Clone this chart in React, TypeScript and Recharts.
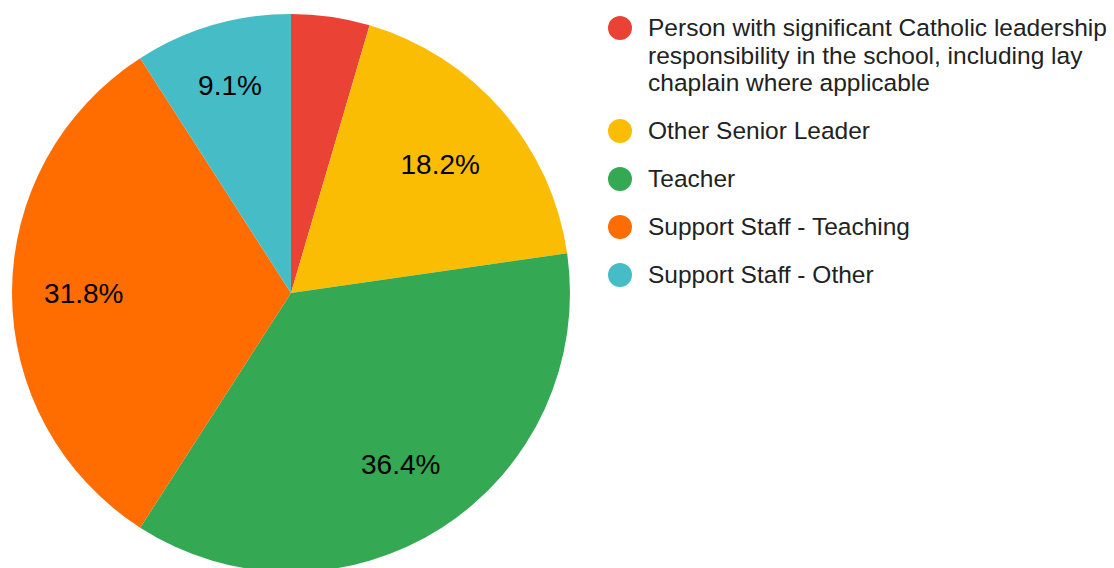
import React from 'react';
import { PieChart, Pie, Cell, Legend } from 'recharts';

const categories = [
  'Person with significant Catholic leadership responsibility in the school, including lay chaplain where applicable',
  'Other Senior Leader',
  'Teacher',
  'Support Staff - Teaching',
  'Support Staff - Other',
];
const counts = [1, 4, 8, 7, 2];
const colors = ['#ea4335', '#fbbc04', '#34a853', '#ff6d01', '#46bdc6'];

const data = categories.map((name, i) => ({ name, value: counts[i] }));

const FONT = '"Liberation Sans", Arial, sans-serif';
const RADIAN = Math.PI / 180;
const LABEL_SIZE = 28;

// rough Arial advance width of a percentage string
const textWidth = (s: string, fs: number) =>
  s.split('').reduce((w, ch) => w + (ch === '.' ? 0.278 : ch === '%' ? 0.889 : 0.556) * fs, 0);

// labels are pulled inward so the text box stays inside the slice, tiny slices get none
const renderLabel = (props: any) => {
  const { cx, cy, midAngle, outerRadius, percent } = props;
  if (percent < 0.05) return null;
  const text = `${(percent * 100).toFixed(1)}%`;
  const hw = textWidth(text, LABEL_SIZE) / 2;
  const cos = Math.cos(-midAngle * RADIAN);
  const sin = Math.sin(-midAngle * RADIAN);
  const r = outerRadius * 0.946 - 1.43 * hw * Math.abs(cos) - 36 * Math.abs(sin);
  const x = cx + r * cos;
  const y = cy + r * sin;
  return (
    <text
      x={x}
      y={y + LABEL_SIZE * 0.358}
      fill="#000"
      fontSize={LABEL_SIZE}
      fontFamily={FONT}
      textAnchor="middle"
    >
      {text}
    </text>
  );
};

const LegendContent = () => (
  <div style={{ fontFamily: FONT, fontSize: 24.5, lineHeight: '27.5px', color: '#222' }}>
    {categories.map((name, i) => (
      <div key={name} style={{ display: 'flex', alignItems: 'flex-start', marginBottom: 20.5 }}>
        <span
          style={{
            flex: 'none',
            width: 24,
            height: 24,
            borderRadius: '50%',
            background: colors[i],
            marginTop: 2,
            marginRight: 16,
          }}
        />
        <span style={{ width: 470 }}>{name}</span>
      </div>
    ))}
  </div>
);

export default function App() {
  return (
    <div style={{ position: 'absolute', left: 0, top: 0, background: '#fff' }}>
      <PieChart width={1114} height={568} margin={{ top: 0, right: 0, bottom: 0, left: 0 }}>
        <Pie
          data={data}
          dataKey="value"
          nameKey="name"
          cx={291}
          cy={293}
          outerRadius={279}
          startAngle={90}
          endAngle={-270}
          stroke="none"
          label={renderLabel}
          labelLine={false}
          isAnimationActive={false}
        >
          {data.map((d, i) => (
            <Cell key={d.name} fill={colors[i]} />
          ))}
        </Pie>
        <Legend
          content={<LegendContent />}
          wrapperStyle={{ position: 'absolute', left: 608, top: 14, width: 506 }}
        />
      </PieChart>
    </div>
  );
}
